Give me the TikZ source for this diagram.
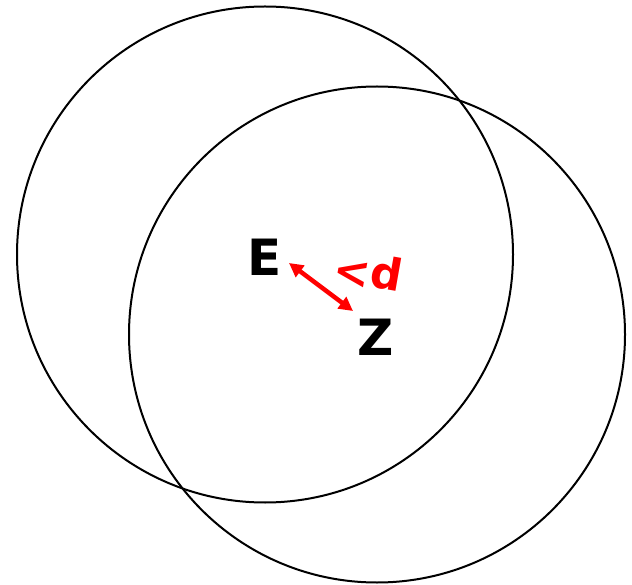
\documentclass[tikz,border=0pt]{standalone}
\usepackage{fontspec}
\setmainfont{DejaVu Sans}
\usetikzlibrary{arrows.meta}
\begin{document}
\begin{tikzpicture}[x=1pt,y=-1pt,
  ring/.style={draw=black,line width=2pt},
  lbl/.style={font=\fontsize{50}{50}\selectfont\bfseries,inner sep=0pt},
  redlbl/.style={font=\fontsize{44}{44}\selectfont\bfseries,text=red,inner sep=0pt,rotate=-10}]
\useasboundingbox (0,0) rectangle (632,585);
\coordinate (c1) at (265,254.5);
\coordinate (c2) at (377,334.5);
\draw[ring] (c1) circle[radius=248pt];
\draw[ring] (c2) circle[radius=248pt];
\node[lbl] (E) at (265,257) {E};
\node[lbl] (Z) at (376,337) {Z};
\coordinate (a1) at (289,263);
\coordinate (a2) at (353,311);
\draw[red,line width=4.5pt,{Triangle[length=14pt,width=14pt]}-{Triangle[length=14pt,width=14pt]}] (a1) -- (a2);
\node[redlbl] (lt) at (352,274) {<};
\node[redlbl] (d) at (387,273) {d};
\end{tikzpicture}
\end{document}
